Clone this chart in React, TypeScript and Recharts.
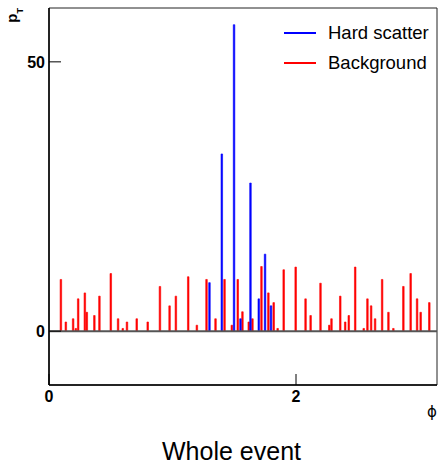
import { ComposedChart, Bar, XAxis, YAxis, ReferenceLine, ReferenceArea } from 'recharts';

// hard scatter particles: phi and pT
const hardPhi = [1.300, 1.400, 1.499, 1.551, 1.632, 1.699, 1.750, 1.798];
const hardPt = [9.0, 32.9, 56.9, 2.3, 27.5, 6.0, 14.3, 4.7];

// background particles
const bgPhi = [
  0.097, 0.137, 0.196, 0.218, 0.237, 0.291, 0.307, 0.368, 0.409, 0.501,
  0.560, 0.598, 0.632, 0.711, 0.800, 0.899, 0.977, 1.028, 1.128, 1.198,
  1.276, 1.349, 1.422, 1.481, 1.529, 1.567, 1.618, 1.648, 1.721, 1.777,
  1.820, 1.852, 1.901, 1.998, 2.078, 2.119, 2.199, 2.270, 2.288, 2.359,
  2.399, 2.428, 2.480, 2.549, 2.579, 2.609, 2.641, 2.698, 2.749, 2.789,
  2.870, 2.929, 2.981, 3.010, 3.080,
];
const bgPt = [
  9.6, 1.7, 2.3, 0.5, 6.0, 7.1, 3.5, 2.9, 6.5, 10.7,
  2.3, 0.5, 1.7, 2.3, 1.7, 8.3, 4.7, 6.5, 10.1, 1.1,
  9.6, 2.3, 9.6, 1.1, 9.6, 3.6, 1.7, 2.3, 12.0, 7.1,
  5.3, 0.5, 11.4, 11.9, 6.0, 2.9, 8.9, 1.1, 2.3, 6.5,
  1.7, 2.9, 11.9, 0.5, 6.0, 4.7, 2.3, 9.6, 3.5, 0.5,
  8.3, 10.7, 6.0, 3.5, 5.3,
];

const xTicks = [0, 2];
const yTicks = [0, 50];
const seriesNames = ['Hard scatter', 'Background'];
const seriesColors = ['#0000ff', '#ff0000'];

const rows = [
  ...hardPhi.map((phi, i) => ({ phi, hard: hardPt[i], bg: null as number | null })),
  ...bgPhi.map((phi, i) => ({ phi, hard: null as number | null, bg: bgPt[i] })),
].sort((a, b) => a.phi - b.phi);

const FONT = '"Liberation Sans", Arial, Helvetica, sans-serif';

const YTick = (props: any) => {
  const { x, y, payload } = props;
  return (
    <g>
      <line x1={x} x2={x + 12} y1={y} y2={y} stroke="#000" strokeWidth={1} />
      <text x={x - 4} y={y + 6} textAnchor="end" fontSize={16} fontWeight="bold" fontFamily={FONT} fill="#000">
        {payload.value}
      </text>
    </g>
  );
};

const XTick = (props: any) => {
  const { x, y, payload } = props;
  return (
    <g>
      <line x1={x} x2={x} y1={y} y2={y - 11} stroke="#000" strokeWidth={1} />
      <text x={x} y={y + 17} textAnchor="middle" fontSize={16} fontWeight="bold" fontFamily={FONT} fill="#000">
        {payload.value}
      </text>
    </g>
  );
};

export default function App() {
  return (
    <div style={{ position: 'relative', width: 438, height: 464, background: '#fff', overflow: 'hidden' }}>
      <style>{'body{margin:0}'}</style>
      <ComposedChart
        width={438}
        height={464}
        data={rows}
        margin={{ top: 8, right: 1, left: 0, bottom: 0 }}
      >
        <XAxis
          dataKey="phi"
          type="number"
          domain={[0, Math.PI]}
          ticks={xTicks}
          allowDataOverflow
          height={79}
          tickSize={0}
          tickMargin={0}
          tickLine={false}
          tick={<XTick />}
          axisLine={{ stroke: '#000', strokeWidth: 1.5 }}
          label={{
            content: (p: any) => (
              <text
                x={p.viewBox.x + p.viewBox.width - 5}
                y={p.viewBox.y + 32}
                textAnchor="middle"
                fontSize={15}
                fontFamily='"DejaVu Sans", sans-serif'
                fill="#000"
              >
                ϕ
              </text>
            ),
          }}
        />
        <YAxis
          type="number"
          domain={[-10, 60]}
          ticks={yTicks}
          allowDataOverflow
          width={49}
          tickSize={0}
          tickMargin={0}
          tickLine={false}
          tick={<YTick />}
          axisLine={{ stroke: '#000', strokeWidth: 1.5 }}
          label={{
            content: () => (
              <text
                transform="rotate(-90)"
                x={-8}
                y={17}
                textAnchor="end"
                fontSize={15}
                fontWeight="bold"
                fontFamily={FONT}
                fill="#000"
              >
                p
                <tspan fontSize={9} dy={6}>T</tspan>
              </text>
            ),
          }}
        />
        <ReferenceArea x1={0} x2={Math.PI} y1={-10} y2={60} fill="none" stroke="#222" strokeWidth={1} />
        <ReferenceLine y={0} stroke="#555" strokeWidth={2} />
        <Bar
          dataKey="bg"
          name="Background"
          stackId="s"
          fill={seriesColors[1]}
          stroke={seriesColors[1]}
          strokeWidth={0.6}
          barSize={2}
          isAnimationActive={false}
        />
        <Bar
          dataKey="hard"
          name="Hard scatter"
          stackId="s"
          fill={seriesColors[0]}
          stroke={seriesColors[0]}
          strokeWidth={0.6}
          barSize={2}
          isAnimationActive={false}
        />
      </ComposedChart>

      {/* legend, kept out of the chart layout so it does not shrink the plot */}
      <div style={{ position: 'absolute', top: 18, left: 284, fontFamily: FONT }}>
        {seriesNames.map((name, i) => (
          <div key={name} style={{ display: 'flex', alignItems: 'center', height: 30 }}>
            <svg width={32} height={4} style={{ display: 'block' }}>
              <line x1={0} x2={32} y1={2} y2={2} stroke={seriesColors[i]} strokeWidth={2} />
            </svg>
            <span style={{ marginLeft: 12, fontSize: 18.5, color: '#000', whiteSpace: 'nowrap' }}>{name}</span>
          </div>
        ))}
      </div>

      <div
        style={{
          position: 'absolute',
          left: 0,
          width: 463,
          top: 439,
          textAlign: 'center',
          fontFamily: FONT,
          fontSize: 25,
          lineHeight: '25px',
          color: '#000',
        }}
      >
        Whole event
      </div>
    </div>
  );
}
